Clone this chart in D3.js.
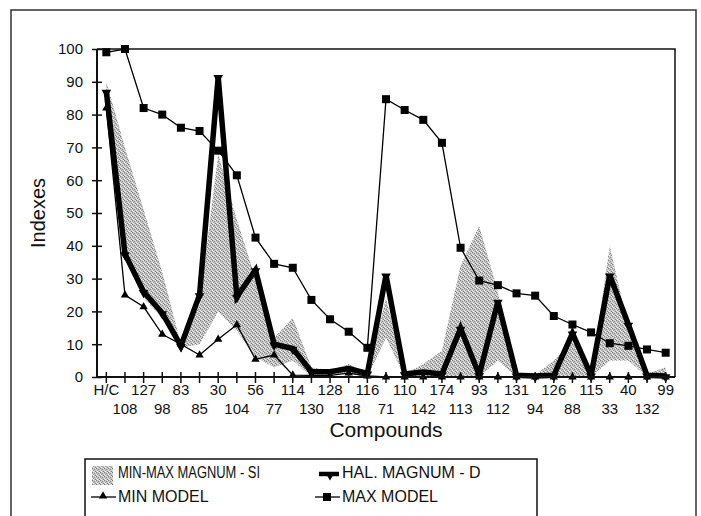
<!DOCTYPE html>
<html><head><meta charset="utf-8">
<script src="https://cdn.jsdelivr.net/npm/d3@7"></script>
<style>body{margin:0;background:#fff}svg{display:block}text{font-family:Arial,"Liberation Sans",sans-serif;fill:#111}</style>
</head><body>
<svg id="c" width="701" height="516"></svg>
<script>
const categories = ["H/C","108","127","98","83","85","30","104","56","77","114","130","128","118","116","71","110","142","174","113","93","112","131","94","126","88","115","33","40","132","99"];
const maxModel = [99,100,82,80,76,75,69,61.5,42.5,34.5,33.3,23.5,17.6,13.8,8.9,84.7,81.4,78.4,71.4,39.4,29.4,28,25.5,24.8,18.6,16,13.6,10.3,9.5,8.4,7.4];
const halMagnum = [87,37.5,26,19.5,9.5,25,91.5,24.5,32.6,10,8.7,1.6,1.6,2.6,1.1,31,0.9,1.5,0.9,14.8,0.6,23,0.5,0.3,0.5,13.3,0.5,31,16,0.5,0.3];
const minModel = [82,25,21.4,13,10,6.7,11.5,15.9,5.4,6.7,0.6,0.5,0.5,1.2,0.3,0,0,0,0,0,0,0,0,0,0,0,0,0,0,0,0];
const siUpper = [90,70,51,32,10,22,68,48,30,12,18,3,2,4,1,24,1,4,8,34,46,26,1,0.5,5,11,0.5,40,15,1,3];
const siLower = [82,36,24,18,9,10,20,14,6,3,5,0,1,1,0,12,0,0,0,0,0,5,0,0,0,0,0,5,5,0,0];
const yTicks = [0,10,20,30,40,50,60,70,80,90,100];
const legendLabels = ["MIN-MAX MAGNUM - SI","HAL. MAGNUM - D","MIN MODEL","MAX MODEL"];

const svg = d3.select("#c");
const L=97,R=675,T=49,B=377;
const x = d3.scaleBand().domain(categories).range([L,R]);
const cx = c => x(c)+x.bandwidth()/2;
const y = d3.scaleLinear().domain([0,100]).range([B,T]);

// pattern
const defs = svg.append("defs");
const pat = defs.append("pattern").attr("id","stip").attr("width",4).attr("height",4).attr("patternUnits","userSpaceOnUse");
pat.append("rect").attr("width",4).attr("height",4).attr("fill","#c4c4c4");
[[0,0,"#7a7a7a"],[2,1,"#8c8c8c"],[1,2,"#9a9a9a"],[3,3,"#7f7f7f"],[3,0,"#eeeeee"],[1,3,"#f2f2f2"],[0,2,"#e6e6e6"]].forEach(([px,py,c])=>
  pat.append("rect").attr("x",px).attr("y",py).attr("width",1).attr("height",1).attr("fill",c));

// outer frame
svg.append("rect").attr("x",11).attr("y",10).attr("width",685).attr("height",530).attr("fill","none").attr("stroke","#333").attr("stroke-width",1.5);

// area
const idx = d3.range(categories.length);
svg.append("path").datum(idx)
  .attr("d", d3.area().x(i=>cx(categories[i])).y0(i=>y(siLower[i])).y1(i=>y(siUpper[i])))
  .attr("fill","url(#stip)");

// plot border
svg.append("path").attr("d",`M${L},${T}H${R}V${B}`).attr("fill","none").attr("stroke","#111").attr("stroke-width",1.5);

const line = arr => d3.line().x(i=>cx(categories[i])).y(i=>y(arr[i]));

// max model
svg.append("path").datum(idx).attr("d",line(maxModel)).attr("fill","none").attr("stroke","#000").attr("stroke-width",1.3);
svg.selectAll(".sq").data(idx).join("rect")
  .attr("x",i=>cx(categories[i])-4).attr("y",i=>y(maxModel[i])-4).attr("width",8).attr("height",8).attr("fill","#000");

// min model
svg.append("path").datum(idx).attr("d",line(minModel)).attr("fill","none").attr("stroke","#000").attr("stroke-width",1.3);
const tri = d3.symbol().type(d3.symbolTriangle).size(30);
svg.selectAll(".tr").data(idx).join("path")
  .attr("transform",i=>`translate(${cx(categories[i])},${y(minModel[i])})`).attr("d",tri).attr("fill","#000");

// hal magnum
svg.append("path").datum(idx).attr("d",line(halMagnum)).attr("fill","none").attr("stroke","#000").attr("stroke-width",5.5).attr("stroke-linejoin","miter").attr("stroke-miterlimit",3);
svg.selectAll(".hm").data(idx).join("path")
  .attr("transform",i=>`translate(${cx(categories[i])},${y(halMagnum[i])+1}) rotate(180)`).attr("d",d3.symbol().type(d3.symbolTriangle).size(40)).attr("fill","#000");

// y axis
const ya = svg.append("g").attr("transform",`translate(${L},0)`).call(d3.axisLeft(y).tickValues(yTicks).tickSize(5).tickPadding(9));
ya.select(".domain").attr("stroke","#111").attr("stroke-width",2).attr("d",`M0,${T}V${B}`);
ya.selectAll(".tick line").attr("x1",-5).attr("x2",5).attr("stroke","#111").attr("stroke-width",1.5);
ya.selectAll(".tick text").attr("font-size",15).attr("font-family","Arial, 'Liberation Sans', sans-serif").attr("fill","#111");

// x axis
const xa = svg.append("g").attr("transform",`translate(0,${B})`).call(d3.axisBottom(x).tickSize(5).tickFormat(""));
xa.select(".domain").attr("stroke","#111").attr("stroke-width",2).attr("d",`M${L},0H${R}`);
xa.selectAll(".tick line").attr("y1",-5).attr("y2",6).attr("stroke","#111").attr("stroke-width",1.5);
svg.selectAll(".xl").data(categories).join("text")
  .attr("x",c=>cx(c)).attr("y",(c,i)=> i%2===0 ? 395 : 413.5)
  .attr("text-anchor","middle").attr("font-size",15).text(c=>c);

// axis titles
svg.append("text").attr("x",386).attr("y",437).attr("text-anchor","middle").attr("font-size",21).text("Compounds");
svg.append("text").attr("transform","translate(45,213) rotate(-90)").attr("text-anchor","middle").attr("font-size",20).text("Indexes");

// legend
const lg = svg.append("g");
lg.append("rect").attr("x",85).attr("y",459).attr("width",452).attr("height",80).attr("fill","#fff").attr("stroke","#111").attr("stroke-width",1.5);
lg.append("rect").attr("x",92).attr("y",466).attr("width",21).attr("height",19).attr("fill","url(#stip)");
lg.append("text").attr("x",118).attr("y",478).attr("font-size",16).attr("textLength",142).attr("lengthAdjust","spacingAndGlyphs").text(legendLabels[0]);
lg.append("line").attr("x1",319).attr("x2",339).attr("y1",474).attr("y2",474).attr("stroke","#000").attr("stroke-width",4.5);
lg.append("path").attr("transform","translate(330,475) rotate(180)").attr("d",d3.symbol().type(d3.symbolTriangle).size(40)).attr("fill","#000");
lg.append("text").attr("x",342).attr("y",478).attr("font-size",16).text(legendLabels[1]);
lg.append("line").attr("x1",91).attr("x2",116).attr("y1",497).attr("y2",497).attr("stroke","#000").attr("stroke-width",1.3);
lg.append("path").attr("transform","translate(103,496)").attr("d",tri).attr("fill","#000");
lg.append("text").attr("x",118).attr("y",502).attr("font-size",16).text(legendLabels[2]);
lg.append("line").attr("x1",315).attr("x2",340).attr("y1",497).attr("y2",497).attr("stroke","#000").attr("stroke-width",1.3);
lg.append("rect").attr("x",323).attr("y",493).attr("width",8).attr("height",8).attr("fill","#000");
lg.append("text").attr("x",342).attr("y",502).attr("font-size",16).text(legendLabels[3]);
</script>
</body></html>
